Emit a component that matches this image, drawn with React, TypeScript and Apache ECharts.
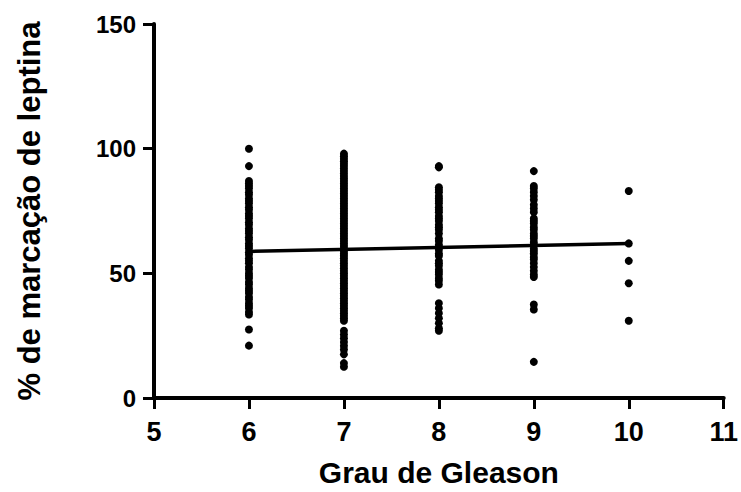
import React, { useEffect, useRef } from "react";
import * as echarts from "echarts";

const xTicks = [5, 6, 7, 8, 9, 10, 11];
const yTicks = [0, 50, 100, 150];

const gleason6 = [100, 93, 87, 86, 85, 84, 82.5, 81.5, 80, 79, 78, 76.5, 75.5, 74, 73, 72, 70.5, 69.5, 68, 67, 66, 64.5, 63.5, 62, 61, 60, 58.5, 57.5, 56, 55, 54, 52.5, 51.5, 50, 49, 48, 46.5, 45.5, 44, 43, 42, 40.5, 39.5, 38, 37, 36, 34.5, 33.5, 27.5, 21];
const gleason7 = [98, 97, 96, 95, 94, 93, 92, 91, 90, 89, 88, 87, 86, 85, 84, 83, 82, 81, 80, 79, 78, 77, 76, 75, 74, 73, 72, 71, 70, 69, 68, 67, 66, 65, 64, 63, 62, 61, 60, 59, 58, 57, 56, 55, 54, 53, 52, 51, 50, 49, 48, 47, 46, 45, 44, 43, 42, 41, 40, 39, 38, 37, 36, 35, 34, 33, 32, 31, 27, 25.5, 24, 22.5, 21, 19.5, 17.5, 14, 12.5];
const gleason8 = [93, 92.5, 84.5, 83.5, 82.5, 81, 80, 79, 78, 76.5, 75.5, 74.5, 73, 72, 71, 69.5, 68.5, 67.5, 66, 64, 63, 61.5, 60.5, 59.5, 58, 57, 55, 54, 53, 51.5, 50.5, 49.5, 48, 47, 45.5, 38, 36, 34, 32, 30, 28, 27];
const gleason9 = [91, 85, 84, 82.5, 81, 79.5, 77.5, 76, 74.5, 72, 71, 70, 68.5, 67.5, 66, 65, 64, 62.5, 61.5, 60, 59, 58, 56.5, 55.5, 54, 52.5, 51, 49.5, 48.5, 37.5, 35.5, 14.5];
const gleason10 = [83, 62, 55, 46, 31];

const regressionLine = [
  [6, 58.8],
  [10, 62.0],
];

const groups: [number, number[]][] = [
  [6, gleason6],
  [7, gleason7],
  [8, gleason8],
  [9, gleason9],
  [10, gleason10],
];

export default function App() {
  const ref = useRef<HTMLDivElement>(null);
  useEffect(() => {
    if (!ref.current) return;
    const chart = echarts.init(ref.current, null, { renderer: "svg" });
    const points: number[][] = [];
    groups.forEach(([g, vals]) => vals.forEach((v) => points.push([g, v])));
    const font = "'Liberation Sans', Arial, sans-serif";
    chart.setOption({
      animation: false,
      backgroundColor: "#ffffff",
      grid: { left: 154, right: 16, top: 24, bottom: 88 },
      xAxis: {
        type: "value",
        min: xTicks[0],
        max: xTicks[xTicks.length - 1],
        interval: 1,
        name: "Grau de Gleason",
        nameLocation: "middle",
        nameGap: 59,
        nameMoveOverlap: false,
        nameTextStyle: { color: "#000", fontSize: 30, fontWeight: "bold", fontFamily: font },
        axisLine: { show: true, onZero: false, lineStyle: { color: "#000", width: 4 } },
        axisTick: { show: true, length: 11, lineStyle: { color: "#000", width: 3 } },
        axisLabel: { color: "#000", fontSize: 27, fontWeight: "bold", fontFamily: font, margin: 20 },
        splitLine: { show: false },
      },
      yAxis: {
        type: "value",
        min: yTicks[0],
        max: yTicks[yTicks.length - 1],
        interval: 50,
        name: "% de marcação de leptina",
        nameLocation: "middle",
        nameGap: 109,
        nameMoveOverlap: false,
        nameTextStyle: { color: "#000", fontSize: 31, fontWeight: "bold", fontFamily: font },
        axisLine: { show: true, onZero: false, lineStyle: { color: "#000", width: 4 } },
        axisTick: { show: true, length: 11, lineStyle: { color: "#000", width: 3 } },
        axisLabel: { color: "#000", fontSize: 24, fontWeight: "bold", fontFamily: font, margin: 18 },
        splitLine: { show: false },
      },
      series: [
        {
          type: "scatter",
          data: points,
          symbol: "circle",
          symbolSize: 8,
          itemStyle: { color: "#000", opacity: 1 },
          z: 3,
        },
        {
          type: "line",
          data: regressionLine,
          symbol: "none",
          lineStyle: { color: "#000", width: 3.5 },
          z: 2,
        },
      ],
    });
    return () => chart.dispose();
  }, []);
  return <div ref={ref} style={{ width: 741, height: 492, position: "absolute", left: 0, top: 0 }} />;
}
